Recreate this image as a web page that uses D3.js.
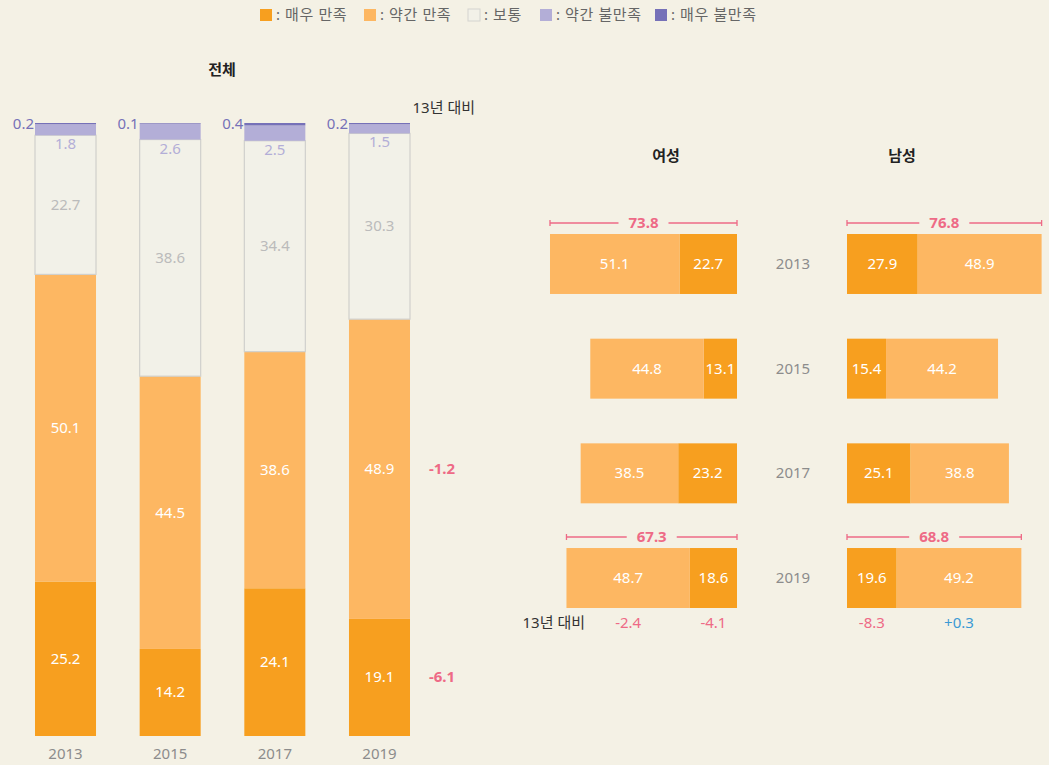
<!DOCTYPE html>
<html>
<head>
<meta charset="utf-8">
<script src="https://cdn.jsdelivr.net/npm/d3@7"></script>
<style>
  body { margin: 0; background: #f4f1e5; }
  svg { font-family: "Noto Sans", "Noto Sans CJK KR", sans-serif; }
</style>
</head>
<body>
<div id="chart"></div>
<script>
var W = 1049, H = 765;

// data
var years = ["2013", "2015", "2017", "2019"];
var levels = ["매우 만족", "약간 만족", "보통", "약간 불만족", "매우 불만족"];
var veryS   = [25.2, 14.2, 24.1, 19.1];
var someS   = [50.1, 44.5, 38.6, 48.9];
var neutral = [22.7, 38.6, 34.4, 30.3];
var someD   = [1.8, 2.6, 2.5, 1.5];
var veryD   = [0.2, 0.1, 0.4, 0.2];
var totalDelta = [-6.1, -1.2];   // 매우 만족, 약간 만족 (19 vs 13)

var womenVery = [22.7, 13.1, 23.2, 18.6];
var womenSome = [51.1, 44.8, 38.5, 48.7];
var menVery   = [27.9, 15.4, 25.1, 19.6];
var menSome   = [48.9, 44.2, 38.8, 49.2];
var womenDelta = [-4.1, -2.4];   // very, some
var menDelta   = [-8.3, 0.3];

var colors = ["#f79f1f", "#fdb762", "#f2f1e8", "#b3aed7", "#7671b8"];
var pink = "#ee6a86";

var svg = d3.select("#chart").append("svg")
  .attr("width", W).attr("height", H);

// legend
var legX = [260, 364, 468, 540, 655];
var leg = svg.append("g");
levels.forEach(function(l, i) {
  leg.append("rect").attr("x", legX[i]).attr("y", 9).attr("width", 12).attr("height", 12)
    .attr("fill", colors[i])
    .attr("stroke", i == 2 ? "#d4d4d0" : "none");
  leg.append("text").attr("x", legX[i] + 16).attr("y", 20)
    .attr("font-size", 15).attr("letter-spacing", 0.6)
    .attr("fill", "#666").text(": " + l);
});

// ---- left: 전체 stacked columns
var x = d3.scaleBand().domain(years).range([35, 410]).paddingInner(0.417);
var y = d3.scaleLinear().domain([0, 100]).range([736, 123]);

var rows = years.map(function(yr, i) {
  return { year: yr, vals: [veryS[i], someS[i], neutral[i], someD[i], veryD[i]] };
});

svg.append("text").attr("x", 222).attr("y", 75).attr("text-anchor", "middle")
  .attr("font-size", 15).attr("font-weight", "bold").attr("fill", "#222").text("전체");

var cols = svg.selectAll(".col").data(rows).enter().append("g")
  .attr("transform", function(d) { return "translate(" + x(d.year) + ",0)"; });

cols.each(function(d) {
  var g = d3.select(this);
  var acc = 0;
  var bw = x.bandwidth();
  d.vals.forEach(function(v, k) {
    var y0 = y(acc), y1 = y(acc + v);
    g.append("rect").attr("x", 0).attr("width", bw)
      .attr("y", y1).attr("height", y0 - y1)
      .attr("fill", colors[k])
      .attr("stroke", k == 2 ? "#d0d0cc" : "none")
      .attr("stroke-width", 1.2);
    var t = g.append("text").attr("font-size", 15);
    if (k < 2) {
      t.attr("x", bw / 2).attr("y", (y0 + y1) / 2 + 5).attr("text-anchor", "middle")
        .attr("fill", "#fff").text(v.toFixed(1));
    } else if (k == 2) {
      t.attr("x", bw / 2).attr("y", (y0 + y1) / 2 + 5).attr("text-anchor", "middle")
        .attr("fill", "#bbb").text(v.toFixed(1));
    } else if (k == 3) {
      t.attr("x", bw / 2).attr("y", y(acc) + 14).attr("text-anchor", "middle")
        .attr("fill", "#b3aed7").text(v.toFixed(1));
    } else {
      t.attr("x", -1).attr("y", y(100) + 6).attr("text-anchor", "end")
        .attr("fill", "#7671b8").text(v.toFixed(1));
    }
    acc += v;
  });
  g.append("text").attr("x", bw / 2).attr("y", 759).attr("text-anchor", "middle")
    .attr("font-size", 15).attr("fill", "#8c8c8c").text(d.year);
});

svg.append("text").attr("x", 475).attr("y", 113).attr("text-anchor", "end")
  .attr("font-size", 15).attr("fill", "#333").text("13년 대비");

var last = rows[3].vals;
var lastX = x("2019") + x.bandwidth() + 32;
svg.append("text").attr("x", lastX).attr("y", y(last[0] / 2) + 5).attr("text-anchor", "middle")
  .attr("font-size", 15).attr("font-weight", "bold").attr("fill", pink).text(totalDelta[0].toFixed(1));
svg.append("text").attr("x", lastX).attr("y", y(last[0] + last[1] / 2) + 5).attr("text-anchor", "middle")
  .attr("font-size", 15).attr("font-weight", "bold").attr("fill", pink).text(totalDelta[1].toFixed(1));

// ---- right: 여성 / 남성
var ry = d3.scaleBand().domain(years).range([234, 608]).paddingInner(0.427);
var rw = d3.scaleLinear().domain([0, 100]).range([0, 253.4]);
var wRight = 737, mLeft = 847;

svg.append("text").attr("x", 666).attr("y", 161).attr("text-anchor", "middle")
  .attr("font-size", 15).attr("font-weight", "bold").attr("fill", "#222").text("여성");
svg.append("text").attr("x", 902).attr("y", 161).attr("text-anchor", "middle")
  .attr("font-size", 15).attr("font-weight", "bold").attr("fill", "#222").text("남성");

function seg(x0, w, yr, color, label) {
  svg.append("rect").attr("x", x0).attr("y", ry(yr))
    .attr("width", w).attr("height", ry.bandwidth()).attr("fill", color);
  svg.append("text").attr("x", x0 + w / 2).attr("y", ry(yr) + ry.bandwidth() / 2 + 5)
    .attr("text-anchor", "middle").attr("font-size", 15).attr("fill", "#fff").text(label);
}

function bracket(x0, x1, yr, total) {
  var yy = ry(yr) - 11;
  var mid = (x0 + x1) / 2;
  var g = svg.append("g").attr("stroke", pink).attr("stroke-width", 1.3);
  g.append("line").attr("x1", x0).attr("x2", mid - 25).attr("y1", yy).attr("y2", yy);
  g.append("line").attr("x1", mid + 25).attr("x2", x1).attr("y1", yy).attr("y2", yy);
  g.append("line").attr("x1", x0).attr("x2", x0).attr("y1", yy - 3).attr("y2", yy + 3);
  g.append("line").attr("x1", x1).attr("x2", x1).attr("y1", yy - 3).attr("y2", yy + 3);
  svg.append("text").attr("x", mid).attr("y", yy + 5).attr("text-anchor", "middle")
    .attr("font-size", 15).attr("font-weight", "bold").attr("fill", pink).text(total.toFixed(1));
}

years.forEach(function(yr, i) {
  var wv = rw(womenVery[i]), ws = rw(womenSome[i]);
  seg(wRight - wv, wv, yr, colors[0], womenVery[i].toFixed(1));
  seg(wRight - wv - ws, ws, yr, colors[1], womenSome[i].toFixed(1));
  var mv = rw(menVery[i]), ms = rw(menSome[i]);
  seg(mLeft, mv, yr, colors[0], menVery[i].toFixed(1));
  seg(mLeft + mv, ms, yr, colors[1], menSome[i].toFixed(1));
  svg.append("text").attr("x", 793).attr("y", ry(yr) + ry.bandwidth() / 2 + 5)
    .attr("text-anchor", "middle").attr("font-size", 15).attr("fill", "#8c8c8c").text(yr);
  if (i == 0 || i == 3) {
    var wt = +(womenVery[i] + womenSome[i]).toFixed(1);
    var mt = +(menVery[i] + menSome[i]).toFixed(1);
    bracket(wRight - rw(wt), wRight, yr, wt);
    bracket(mLeft, mLeft + rw(mt), yr, mt);
  }
});

// bottom deltas under 2019 bars
var dy = ry("2019") + ry.bandwidth() + 20;
svg.append("text").attr("x", 585).attr("y", dy).attr("text-anchor", "end")
  .attr("font-size", 15).attr("fill", "#333").text("13년 대비");
function fmt(v) { return (v > 0 ? "+" : "") + v.toFixed(1); }
var wv19 = rw(womenVery[3]), ws19 = rw(womenSome[3]);
var mv19 = rw(menVery[3]), ms19 = rw(menSome[3]);
var deltas = [
  { x: wRight - wv19 - ws19 / 2, v: womenDelta[1] },
  { x: wRight - wv19 / 2, v: womenDelta[0] },
  { x: mLeft + mv19 / 2, v: menDelta[0] },
  { x: mLeft + mv19 + ms19 / 2, v: menDelta[1] }
];
svg.selectAll(".dl").data(deltas).enter().append("text")
  .attr("x", function(d) { return d.x; }).attr("y", dy)
  .attr("text-anchor", "middle").attr("font-size", 15)
  .attr("fill", function(d) { return d.v > 0 ? "#3b9ad4" : pink; })
  .text(function(d) { return fmt(d.v); });
</script>
</body>
</html>
